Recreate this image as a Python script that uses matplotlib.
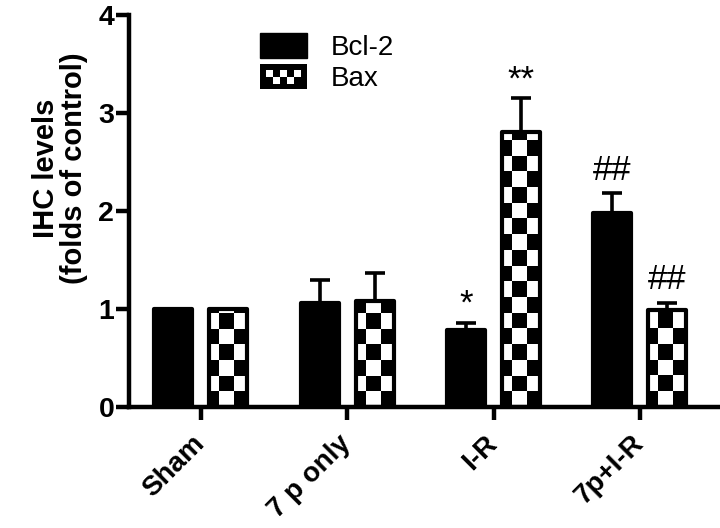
import numpy as np
import matplotlib
matplotlib.use('Agg')
import matplotlib.pyplot as plt
from matplotlib.patches import Patch, Rectangle
from matplotlib.colors import ListedColormap
from matplotlib.legend_handler import HandlerBase

plt.rcParams['font.family'] = ['Liberation Sans', 'DejaVu Sans']

# datos
grupos = ['Sham', '7 p only', 'I-R', '7p+I-R']
bcl2 = [1.00, 1.06, 0.79, 1.98]
bcl2_err = [0.00, 0.24, 0.07, 0.20]
bax = [1.00, 1.08, 2.81, 0.99]
bax_err = [0.00, 0.29, 0.34, 0.07]
marca_bcl2 = ['', '', '*', '##']
marca_bax = ['', '', '**', '##']


class HandlerCuadros(HandlerBase):
    # parche de leyenda con cuadros blancos y negros
    def create_artists(self, legend, orig_handle, xdescent, ydescent,
                       width, height, fontsize, trans):
        x0, y0 = -xdescent, -ydescent
        arts = [Rectangle((x0, y0), width, height, facecolor='black',
                          edgecolor='none', transform=trans)]
        ncol, nfil = 5, 2
        ix, iy = x0 + 0.12 * width, y0 + 0.2 * height
        cw, ch = 0.76 * width / ncol, 0.55 * height / nfil
        for j in range(nfil):
            for i in range(ncol):
                # fila de arriba: blancos en 0,2,4 ; fila de abajo: en 1,3
                blanco = (i % 2 == 0) if j == 1 else (i % 2 == 1)
                if blanco:
                    arts.append(Rectangle((ix + i * cw, iy + j * ch), cw, ch,
                                          facecolor='white', edgecolor='none',
                                          transform=trans))
        return arts


fig = plt.figure(figsize=(7.2, 5.28), dpi=100)
ax = fig.add_axes([0.179, 0.229, 0.821, 0.7424])

x = np.arange(len(grupos))
ancho = 0.26
desp = 0.188
lw = 3.0

ax.bar(x - desp, bcl2, ancho, color='black', edgecolor='black',
       linewidth=lw, joinstyle='round', zorder=3)

fondo = ax.bar(x + desp, bax, ancho, color='white', edgecolor='none',
               linewidth=0, zorder=2)
ax.bar(x + desp, bax, ancho, fill=False, edgecolor='black',
       linewidth=lw, joinstyle='round', zorder=3)

# tablero de ajedrez dentro de cada barra de Bax
cw, ch = 0.1025, 0.16
tablero = ListedColormap(['black', 'white'])
for p in fondo.patches:
    izq = p.get_x() - 0.35 * cw
    alto = p.get_height()
    nf = int(np.ceil(alto / ch)) + 1
    nc = int(np.ceil((p.get_width() + cw) / cw)) + 1
    ii, jj = np.meshgrid(np.arange(nc), np.arange(nf))
    img = (ii + jj) % 2
    im = ax.imshow(img, cmap=tablero, origin='lower', interpolation='nearest',
                   aspect='auto', extent=(izq, izq + nc * cw, 0, nf * ch),
                   zorder=2.5)
    im.set_clip_path(p)

# barras de error solo hacia arriba
for xs, v, e in [(x - desp, bcl2, bcl2_err), (x + desp, bax, bax_err)]:
    v = np.array(v)
    e = np.array(e)
    m = e > 0
    ax.errorbar(xs[m], v[m], yerr=[np.zeros(m.sum()), e[m]], fmt='none',
                ecolor='black', elinewidth=2.6, capsize=7.5, capthick=2.6,
                zorder=4)

# asteriscos y almohadillas
for xs, v, e, t in [(x - desp, bcl2, bcl2_err, marca_bcl2),
                    (x + desp, bax, bax_err, marca_bax)]:
    for xi, vi, ei, ti in zip(xs, v, e, t):
        if ti:
            dy = 0.02 if '*' in ti else 0.07
            ax.text(xi, vi + ei + dy, ti, ha='center', va='bottom',
                    fontsize=25, zorder=5)

ax.set_xlim(-0.492, 3.547)
ax.set_ylim(0, 4)
ax.set_yticks([0, 1, 2, 3, 4])
ax.set_xticks(x)
ax.set_xticklabels(grupos, rotation=45, ha='right', va='center',
                   rotation_mode='anchor', fontsize=20, fontweight='bold')
for lab in ax.get_yticklabels():
    lab.set_fontsize(20.5)
    lab.set_fontweight('bold')

for s in ['top', 'right']:
    ax.spines[s].set_visible(False)
for s in ['left', 'bottom']:
    ax.spines[s].set_linewidth(3.2)
ax.tick_params(axis='both', length=9.5, width=3.2, pad=1)
ax.tick_params(axis='x', pad=14)

ax.set_ylabel('IHC levels\n(folds of control)', fontsize=21,
              fontweight='bold', linespacing=1.0)
ax.yaxis.set_label_coords(-0.07, 0.61)

h1 = Patch(facecolor='black', edgecolor='black')
h2 = Patch(facecolor='white', edgecolor='black')
ax.legend([h1, h2], ['Bcl-2', 'Bax'], handler_map={h2: HandlerCuadros()},
          loc='upper left', bbox_to_anchor=(0.361, 0.9375),
          bbox_transform=fig.transFigure, frameon=False, fontsize=20,
          handlelength=1.7, handleheight=1.0, handletextpad=0.85,
          labelspacing=0.1, borderpad=0, borderaxespad=0)

fig.savefig('out.png', dpi=100)
